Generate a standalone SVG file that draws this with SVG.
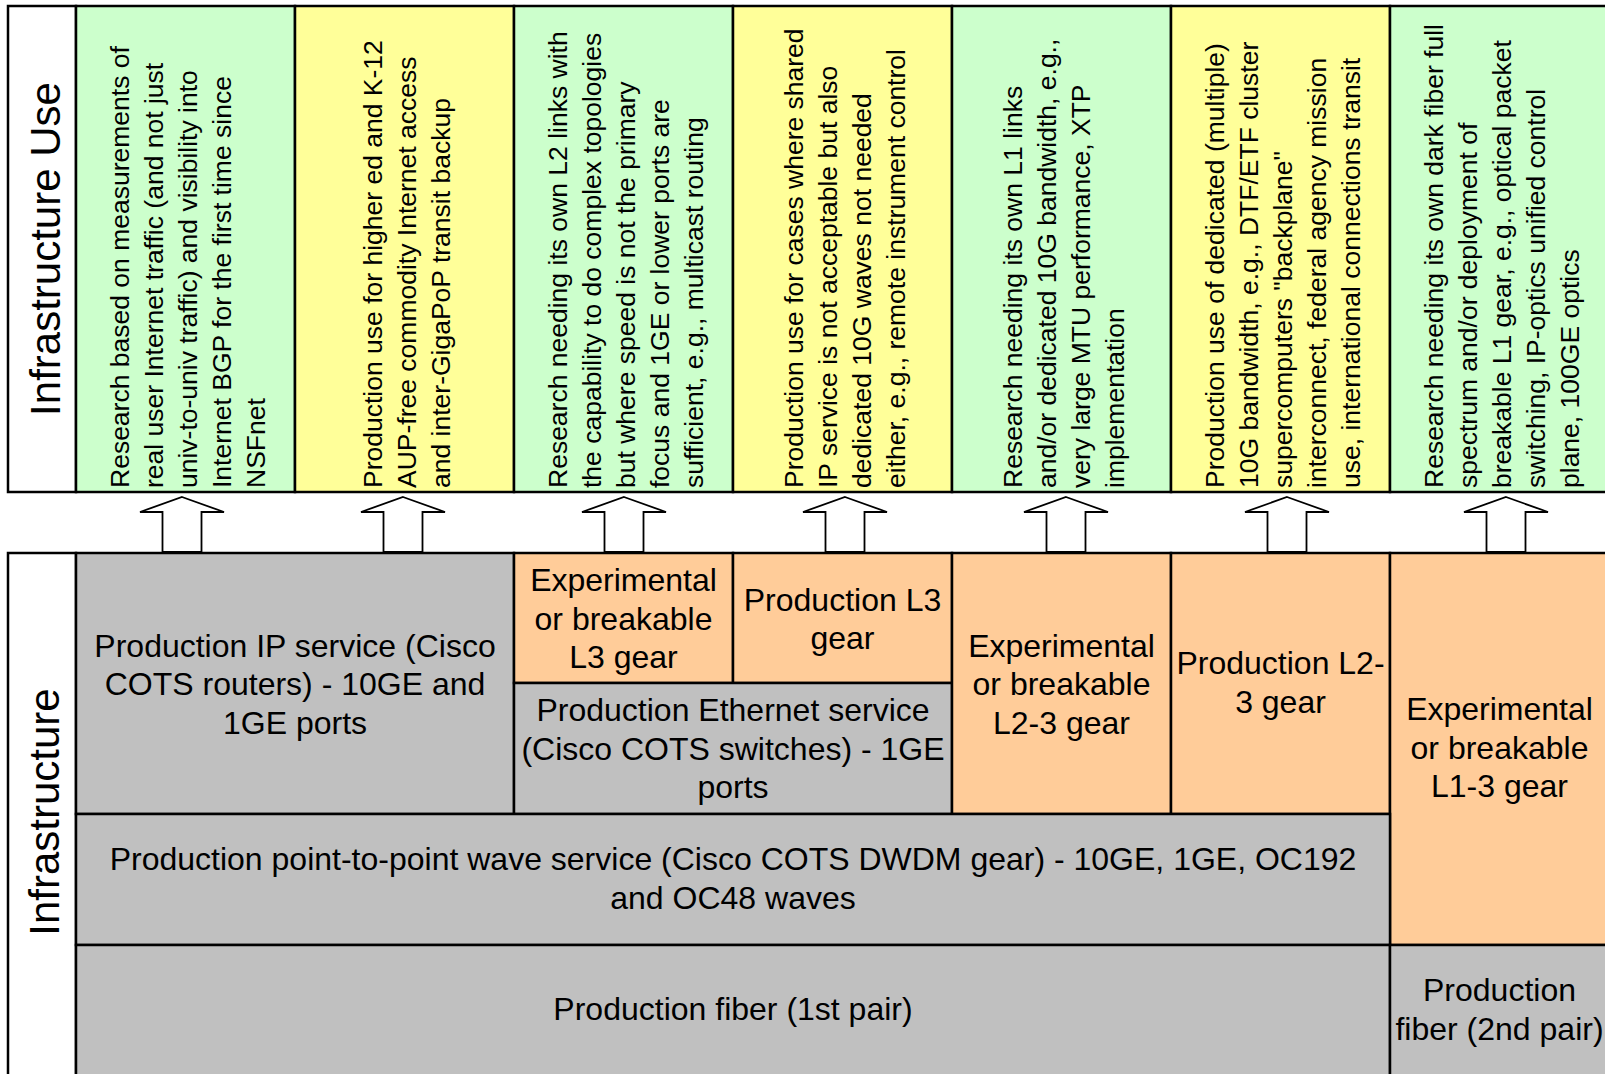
<svg xmlns="http://www.w3.org/2000/svg" width="1605" height="1074" viewBox="0 0 1605 1074">
<style>
  .cell { stroke: #000; stroke-width: 2.5; }
  .green { fill: #CCFFCC; }
  .yellow { fill: #FFFF99; }
  .gray { fill: #C0C0C0; }
  .orange { fill: #FFCC99; }
  .white { fill: #FFFFFF; }
  text { font-family: "Liberation Sans", Arial, sans-serif; fill: #000; }
  .use { font-size: 26.5px; }
  .lbl { font-size: 42px; text-anchor: middle; }
  .box { font-size: 32px; text-anchor: middle; }
  .arrow { fill: #FFFFFF; stroke: #000; stroke-width: 1.8; stroke-linejoin: miter; }
</style>
<rect x="0" y="0" width="1605" height="1074" fill="#FFFFFF"/>

<!-- Top panel: Infrastructure Use -->
<g id="label-use">
  <rect class="cell white" x="8" y="6" width="68" height="486"/>
  <text class="lbl" transform="translate(60,249) rotate(-90)">Infrastructure Use</text>
</g>
<g id="use-1">
  <rect class="cell green" x="76" y="6" width="219" height="486"/>
  <text class="use" transform="translate(128.5,488) rotate(-90)"><tspan x="0" y="0">Research based on measurements of</tspan><tspan x="0" dy="34">real user Internet traffic (and not just</tspan><tspan x="0" dy="34">univ-to-univ traffic) and visibility into</tspan><tspan x="0" dy="34">Internet BGP for the first time since</tspan><tspan x="0" dy="34">NSFnet</tspan></text>
</g>
<g id="use-2">
  <rect class="cell yellow" x="295" y="6" width="219" height="486"/>
  <text class="use" transform="translate(381.5,488) rotate(-90)"><tspan x="0" y="0">Production use for higher ed and K-12</tspan><tspan x="0" dy="34">AUP-free commodity Internet access</tspan><tspan x="0" dy="34">and inter-GigaPoP transit backup</tspan></text>
</g>
<g id="use-3">
  <rect class="cell green" x="514" y="6" width="219" height="486"/>
  <text class="use" transform="translate(566.5,488) rotate(-90)"><tspan x="0" y="0">Research needing its own L2 links with</tspan><tspan x="0" dy="34">the capability to do complex topologies</tspan><tspan x="0" dy="34">but where speed is not the primary</tspan><tspan x="0" dy="34">focus and 1GE or lower ports are</tspan><tspan x="0" dy="34">sufficient, e.g., multicast routing</tspan></text>
</g>
<g id="use-4">
  <rect class="cell yellow" x="733" y="6" width="219" height="486"/>
  <text class="use" transform="translate(802.5,488) rotate(-90)"><tspan x="0" y="0">Production use for cases where shared</tspan><tspan x="0" dy="34">IP service is not acceptable but also</tspan><tspan x="0" dy="34">dedicated 10G waves not needed</tspan><tspan x="0" dy="34">either, e.g., remote instrument control</tspan></text>
</g>
<g id="use-5">
  <rect class="cell green" x="952" y="6" width="219" height="486"/>
  <text class="use" transform="translate(1021.5,488) rotate(-90)"><tspan x="0" y="0">Research needing its own L1 links</tspan><tspan x="0" dy="34">and/or dedicated 10G bandwidth, e.g.,</tspan><tspan x="0" dy="34">very large MTU performance, XTP</tspan><tspan x="0" dy="34">implementation</tspan></text>
</g>
<g id="use-6">
  <rect class="cell yellow" x="1171" y="6" width="219" height="486"/>
  <text class="use" transform="translate(1223.5,488) rotate(-90)"><tspan x="0" y="0">Production use of dedicated (multiple)</tspan><tspan x="0" dy="34">10G bandwidth, e.g., DTF/ETF cluster</tspan><tspan x="0" dy="34">supercomputers "backplane"</tspan><tspan x="0" dy="34">interconnect, federal agency mission</tspan><tspan x="0" dy="34">use, international connections transit</tspan></text>
</g>
<g id="use-7">
  <rect class="cell green" x="1390" y="6" width="225" height="486"/>
  <text class="use" transform="translate(1442.5,488) rotate(-90)"><tspan x="0" y="0">Research needing its own dark fiber full</tspan><tspan x="0" dy="34">spectrum and/or deployment of</tspan><tspan x="0" dy="34">breakable L1 gear, e.g., optical packet</tspan><tspan x="0" dy="34">switching, IP-optics unified control</tspan><tspan x="0" dy="34">plane, 100GE optics</tspan></text>
</g>

<!-- Bottom panel: Infrastructure -->
<g id="label-infra">
  <rect class="cell white" x="8" y="553" width="68" height="530"/>
  <text class="lbl" transform="translate(59,812) rotate(-90)">Infrastructure</text>
</g>
<g id="ip-service">
  <rect class="cell gray" x="76" y="553" width="438" height="261"/>
  <text class="box" x="295" y="656.5">Production IP service (Cisco<tspan x="295" dy="38.5">COTS routers) - 10GE and</tspan><tspan x="295" dy="38.5">1GE ports</tspan></text>
</g>
<g id="exp-l3">
  <rect class="cell orange" x="514" y="553" width="219" height="130"/>
  <text class="box" x="623.5" y="591">Experimental<tspan x="623.5" dy="38.5">or breakable</tspan><tspan x="623.5" dy="38.5">L3 gear</tspan></text>
</g>
<g id="prod-l3">
  <rect class="cell orange" x="733" y="553" width="219" height="130"/>
  <text class="box" x="842.5" y="610.5">Production L3<tspan x="842.5" dy="38.5">gear</tspan></text>
</g>
<g id="ethernet">
  <rect class="cell gray" x="514" y="683" width="438" height="131"/>
  <text class="box" x="733" y="721">Production Ethernet service<tspan x="733" dy="38.5">(Cisco COTS switches) - 1GE</tspan><tspan x="733" dy="38.5">ports</tspan></text>
</g>
<g id="exp-l23">
  <rect class="cell orange" x="952" y="553" width="219" height="261"/>
  <text class="box" x="1061.5" y="656.5">Experimental<tspan x="1061.5" dy="38.5">or breakable</tspan><tspan x="1061.5" dy="38.5">L2-3 gear</tspan></text>
</g>
<g id="prod-l23">
  <rect class="cell orange" x="1171" y="553" width="219" height="261"/>
  <text class="box" x="1280.5" y="674">Production L2-<tspan x="1280.5" dy="38.5">3 gear</tspan></text>
</g>
<g id="exp-l13">
  <rect class="cell orange" x="1390" y="553" width="225" height="392"/>
  <text class="box" x="1499.5" y="720">Experimental<tspan x="1499.5" dy="38.5">or breakable</tspan><tspan x="1499.5" dy="38.5">L1-3 gear</tspan></text>
</g>
<g id="wave">
  <rect class="cell gray" x="76" y="814" width="1314" height="131"/>
  <text class="box" x="733" y="870">Production point-to-point wave service (Cisco COTS DWDM gear) - 10GE, 1GE, OC192<tspan x="733" dy="38.5">and OC48 waves</tspan></text>
</g>
<g id="fiber-1">
  <rect class="cell gray" x="76" y="945" width="1314" height="140"/>
  <text class="box" x="733" y="1020">Production fiber (1st pair)</text>
</g>
<g id="fiber-2">
  <rect class="cell gray" x="1390" y="945" width="225" height="140"/>
  <text class="box" x="1499.5" y="1001">Production<tspan x="1499.5" dy="38.5">fiber (2nd pair)</tspan></text>
</g>

<!-- Connectors: block arrows -->
<g id="connectors">
  <polygon class="arrow" points="182,497 224,512 201.5,512 201.5,552 162.5,552 162.5,512 140,512"/>
  <polygon class="arrow" points="403,497 445,512 422.5,512 422.5,552 383.5,552 383.5,512 361,512"/>
  <polygon class="arrow" points="624,497 666,512 643.5,512 643.5,552 604.5,552 604.5,512 582,512"/>
  <polygon class="arrow" points="845,497 887,512 864.5,512 864.5,552 825.5,552 825.5,512 803,512"/>
  <polygon class="arrow" points="1066,497 1108,512 1085.5,512 1085.5,552 1046.5,552 1046.5,512 1024,512"/>
  <polygon class="arrow" points="1287,497 1329,512 1306.5,512 1306.5,552 1267.5,552 1267.5,512 1245,512"/>
  <polygon class="arrow" points="1506,497 1548,512 1525.5,512 1525.5,552 1486.5,552 1486.5,512 1464,512"/>
</g>
</svg>
